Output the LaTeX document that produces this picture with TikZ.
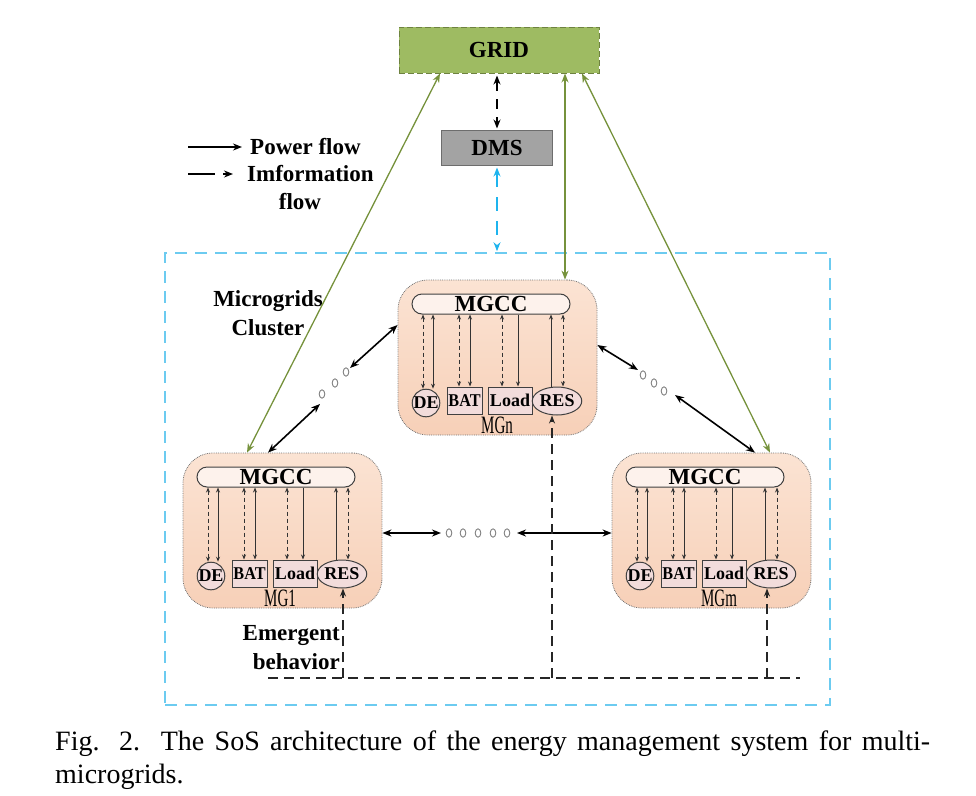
\documentclass[tikz,border=0pt]{standalone}
\usepackage{fontspec}
\setmainfont{Liberation Serif}
\usetikzlibrary{arrows.meta,shapes.geometric}
\definecolor{gridfill}{HTML}{9EBB62}
\definecolor{griddraw}{HTML}{6E8240}
\definecolor{dmsfill}{HTML}{A3A3A3}
\definecolor{dmsdraw}{HTML}{6D6D6D}
\definecolor{gline}{HTML}{76923C}
\definecolor{skyb}{HTML}{1EB4EE}
\definecolor{clusterb}{HTML}{6CCBF0}
\definecolor{mgtop}{HTML}{FBE3D3}
\definecolor{mgbot}{HTML}{F7D0B8}
\definecolor{mgccfill}{HTML}{FDF2EC}
\definecolor{compfill}{HTML}{F2DCDB}
\tikzset{
 lbl/.style={font=\fontsize{23}{29}\selectfont\bfseries, inner sep=0pt},
 mgbox/.style={draw=black!55, densely dotted, line width=0.8pt, rounded corners=30pt, top color=mgtop, bottom color=mgbot, minimum width=199pt, minimum height=155pt, inner sep=0pt},
 mgcc/.style={draw=black!75, line width=1pt, fill=mgccfill, rounded corners=10pt, minimum width=158pt, minimum height=20pt, inner sep=0pt, font=\fontsize{23}{23}\selectfont\bfseries},
 comp/.style={draw=black!75, line width=1pt, fill=compfill, inner sep=0pt, font=\fontsize{18}{18}\selectfont\bfseries},
 compbox/.style={comp, rectangle, minimum width=35pt, minimum height=27pt},
 decirc/.style={comp, circle, minimum size=25pt},
 resell/.style={comp, ellipse, minimum width=41pt, minimum height=28pt},
 mglabel/.style={font=\fontsize{25}{25}\selectfont, inner sep=0pt},
 ia/.style={line width=1pt, draw=black!80, >={Stealth[length=5pt,width=4pt]}},
 iad/.style={ia, dash pattern=on 4pt off 3pt},
 ba/.style={line width=1.6pt, >={Stealth[length=9pt,width=7pt]}},
 gl/.style={line width=1.3pt, draw=gline, >={Stealth[length=9pt,width=7pt]}, <->},
 dotc/.style={draw=black!50, line width=0.9pt},
 em/.style={line width=1.2pt, draw=black!85, dash pattern=on 10pt off 6pt, >={Stealth[length=8pt,width=6pt]}},
}
\newcommand\mgunit[5]{%
 \begin{scope}[shift={(#2,#3)}]
  \node[mgbox] (#1box) at (99.5,77.5) {};
  \node[mgcc] (#1mgcc) at (93,24) {MGCC};
  \node[decirc] (#1de) at (28,123) {DE};
  \node[compbox] (#1bat) at (66.5,120.5) {\scalebox{0.9}[1]{BAT}};
  \node[compbox, minimum width=44pt] (#1load) at (112,120.5) {Load};
  \node[resell] (#1res) at (159,121) {RES};
  \node[mglabel] (#1lab) at (#4,145) {\scalebox{0.6}[1]{#5}};
  \draw[iad,<->] (25,0 |- #1mgcc.south) -- (25,0 |- #1de.north);
  \draw[ia,<->] (35,0 |- #1mgcc.south) -- (35,0 |- #1de.north);
  \draw[iad,<->] (61,0 |- #1mgcc.south) -- (61,0 |- #1bat.north);
  \draw[ia,<->] (72,0 |- #1mgcc.south) -- (72,0 |- #1bat.north);
  \draw[iad,<->] (104,0 |- #1mgcc.south) -- (104,0 |- #1load.north);
  \draw[ia,->] (120,0 |- #1mgcc.south) -- (120,0 |- #1load.north);
  \draw[ia,<-] (153,0 |- #1mgcc.south) -- (153,0 |- #1res.north);
  \draw[iad,<->] (165,0 |- #1mgcc.south) -- (165,0 |- #1res.north);
 \end{scope}}
\begin{document}
\begin{tikzpicture}[x=1pt,y=-1pt]
\useasboundingbox (0,0) rectangle (976,795);
% top boxes
\node[draw=griddraw, fill=gridfill, dash pattern=on 6pt off 3pt, line width=1pt, minimum width=200pt, minimum height=46pt, font=\fontsize{23}{23}\selectfont\bfseries] (grid) at (499,50) {GRID};
\node[draw=dmsdraw, fill=dmsfill, line width=1pt, minimum width=111pt, minimum height=35pt, font=\fontsize{23}{23}\selectfont\bfseries] (dms) at (497,147.5) {DMS};
% cluster
\node[draw=clusterb, line width=1.6pt, dash pattern=on 12pt off 8pt, minimum width=665pt, minimum height=452pt] (cluster) at (497.5,479) {};
\draw[ba,<->, line width=1.4pt, dash pattern=on 10pt off 8pt] ([yshift=-2pt]grid.south -| dms.north) -- ([yshift=1pt]dms.north);
\draw[ba,<->, draw=skyb, line width=1.4pt, dash pattern=on 14pt off 10pt] ([yshift=-2pt]dms.south) -- ([yshift=1pt]dms.south |- cluster.north);
% legend
\node[lbl, anchor=west] (lpower) at (250,147) {Power flow};
\node[lbl, anchor=west] (linfo) at (247,174) {Imformation};
\node[lbl] (lflow) at (300,202) {flow};
\coordinate (lp1) at (188,147);
\coordinate (li1) at (188,174);
\draw[ba,->] (lp1) -- ([xshift=-8pt]lpower.west);
\draw[ba,->, dash pattern=on 27pt off 8pt] (li1) -- ([xshift=-14pt]linfo.west);
\node[lbl, align=center] (mcl) at (268,313) {Microgrids\\Cluster};
% microgrids
\mgunit{mga}{183}{453}{97}{MG1}
\mgunit{mgn}{398}{280}{99}{MGn}
\mgunit{mgm}{612}{453}{107}{MGm}
% grid links
\draw[gl] (grid.south -| 440,0) -- (mgabox.north -| 247,0);
\draw[gl] (grid.south -| 565,0) -- (mgnbox.north -| 565,0);
\draw[gl] (grid.south -| 582,0) -- (mgmbox.north -| 770,0);
% inter-MG links
\coordinate (d1a) at (320,404); \coordinate (d1b) at (350,368);
\coordinate (d2a) at (638,370); \coordinate (d2b) at (675,395);
\coordinate (h1) at (441,533); \coordinate (h2) at (517,533);
\draw[ba,<->] (mgabox.north -| 268,0) -- (d1a);
\draw[ba,<->] (d1b) -- (mgnbox.west |- 0,325);
\draw[ba,<->] (mgnbox.east |- 0,345) -- (d2a);
\draw[ba,<->] (d2b) -- (mgmbox.north -| 755,0);
\draw[ba,<->] (mgabox.east |- 0,533) -- (h1);
\draw[ba,<->] (h2) -- (mgmbox.west |- 0,533);
\foreach \px/\py in {449/533,463/533,478/533,493/533,507/533,322/394,335/383,346/372,643/375,654/383,664/391}
  \draw[dotc] (\px,\py) ellipse (2.8 and 4.2);
% emergent behaviour
\coordinate (emL) at (268,678); \coordinate (emR) at (800,678);
\draw[em] (emL) -- (emR);
\draw[em,->] (343,678) -- (343,0 |- mgares.south);
\draw[em,->] (552,678) -- (552,0 |- mgnres.south);
\draw[em,->] (767,678) -- (767,0 |- mgmres.south);
\node[lbl, align=right, anchor=east] (emt) at (340,648) {Emergent\\behavior};
% caption
\node[anchor=base west, inner sep=0pt, font=\fontsize{28}{33}\selectfont] (cap1) at (55,750) {\makebox[875pt][s]{Fig. 2.\ \ The SoS architecture of the energy management system for multi-}};
\node[anchor=base west, inner sep=0pt, font=\fontsize{28}{33}\selectfont] (cap2) at (55,783) {microgrids.};
\end{tikzpicture}
\end{document}
